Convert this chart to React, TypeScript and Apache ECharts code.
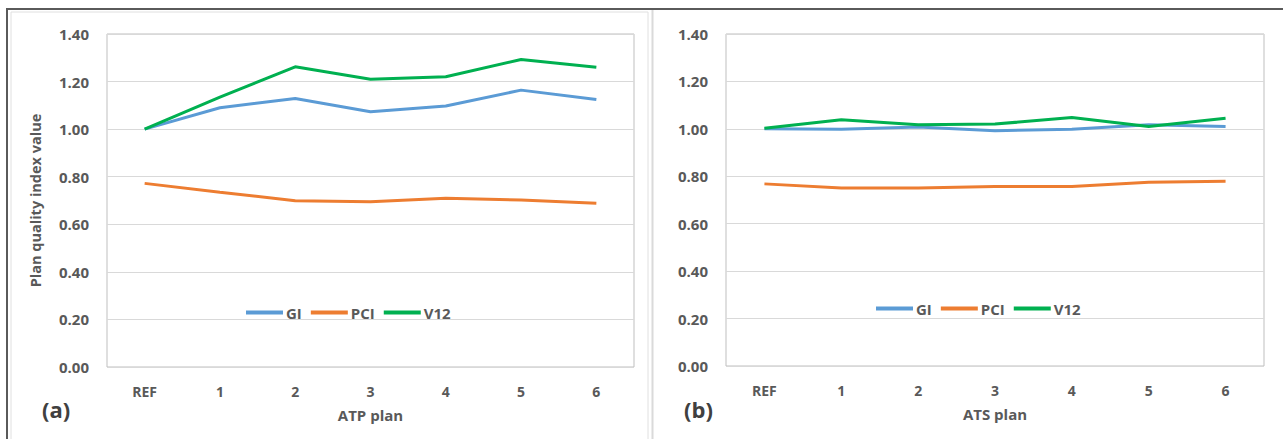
import React, { useEffect, useRef } from "react";
import * as echarts from "echarts";

const categories = ["REF", "1", "2", "3", "4", "5", "6"];
const yTicks = [0, 0.2, 0.4, 0.6, 0.8, 1.0, 1.2, 1.4];

const atpGI = [1.0, 1.09, 1.129, 1.073, 1.097, 1.164, 1.125];
const atpPCI = [0.772, 0.735, 0.699, 0.695, 0.709, 0.702, 0.688];
const atpV12 = [1.0, 1.135, 1.262, 1.21, 1.22, 1.293, 1.26];

const atsGI = [1.0, 0.998, 1.008, 0.992, 0.998, 1.017, 1.01];
const atsPCI = [0.768, 0.751, 0.751, 0.757, 0.757, 0.775, 0.779];
const atsV12 = [1.003, 1.038, 1.017, 1.02, 1.048, 1.01, 1.045];

const seriesNames = ["GI", "PCI", "V12"];
const colors = ["#5B9BD5", "#ED7D31", "#00B050"];
const panelLabels = ["(a)", "(b)"];
const xTitles = ["ATP plan", "ATS plan"];
const yTitle = "Plan quality index value";

const FONT = "'Open Sans', Lato, sans-serif";
const TXT = "#595959";
const FS = 14;

export default function App() {
  const ref = useRef<HTMLDivElement>(null);
  useEffect(() => {
    if (!ref.current) return;
    const chart = echarts.init(ref.current, null, { renderer: "svg" });
    const grids = [
      { left: 107, top: 34, width: 527, height: 333 },
      { left: 726, top: 34, width: 538, height: 332 },
    ];
    const mkX = (i: number) => ({
      type: "category",
      gridIndex: i,
      data: categories,
      boundaryGap: true,
      axisLine: { show: false },
      axisTick: { show: false },
      axisLabel: { color: TXT, fontFamily: FONT, fontWeight: "bold", fontSize: FS, margin: 17 },
      name: xTitles[i],
      nameLocation: "middle",
      nameGap: 40,
      nameTextStyle: { color: TXT, fontFamily: FONT, fontWeight: "bold", fontSize: FS + 1 },
    });
    const mkY = (i: number) => ({
      type: "value",
      gridIndex: i,
      min: yTicks[0],
      max: yTicks[yTicks.length - 1],
      interval: 0.2,
      axisLine: { show: false },
      axisTick: { show: false },
      splitLine: { lineStyle: { color: "#D9D9D9", width: 1 } },
      axisLabel: {
        color: TXT,
        fontFamily: FONT,
        fontWeight: "bold",
        fontSize: FS + 1,
        margin: 18,
        formatter: (v: number) => v.toFixed(2),
      },
      name: i === 0 ? yTitle : "",
      nameLocation: "middle",
      nameGap: 64,
      nameTextStyle: { color: TXT, fontFamily: FONT, fontWeight: "bold", fontSize: 14.5 },
    });
    const data = [
      [atpGI, atpPCI, atpV12],
      [atsGI, atsPCI, atsV12],
    ];
    const series: any[] = [];
    data.forEach((set, gi) => {
      set.forEach((vals, si) => {
        series.push({
          type: "line",
          name: seriesNames[si],
          xAxisIndex: gi,
          yAxisIndex: gi,
          data: vals,
          symbol: "none",
          lineStyle: { color: colors[si], width: 3 },
          itemStyle: { color: colors[si] },
          z: si === 2 ? 3 : 2,
        });
      });
    });
    const legendBase = {
      data: seriesNames,
      icon: "rect",
      itemWidth: 37,
      itemHeight: 4,
      itemGap: 9,
      textStyle: { color: TXT, fontFamily: FONT, fontWeight: "bold", fontSize: 15, padding: [0, 0, 0, -2] },
    };
    chart.setOption({
      animation: false,
      backgroundColor: "#ffffff",
      color: colors,
      grid: grids.map((g) => ({ ...g, show: true, borderColor: "#BFBFBF", borderWidth: 1, backgroundColor: "transparent" })),
      xAxis: [mkX(0), mkX(1)],
      yAxis: [mkY(0), mkY(1)],
      legend: [
        { ...legendBase, left: 241, top: 300 },
        { ...legendBase, left: 871, top: 296 },
      ],
      series,
      graphic: [
        { type: "line", shape: { x1: 7, y1: 9, x2: 1283, y2: 9 }, style: { stroke: "#5A5A5A", lineWidth: 2 } },
        { type: "line", shape: { x1: 7, y1: 8, x2: 7, y2: 439 }, style: { stroke: "#5A5A5A", lineWidth: 2 } },
        { type: "line", shape: { x1: 11, y1: 12, x2: 648, y2: 12 }, style: { stroke: "#E0E0E0", lineWidth: 1 } },
        { type: "line", shape: { x1: 11, y1: 12, x2: 11, y2: 439 }, style: { stroke: "#E0E0E0", lineWidth: 1 } },
        { type: "line", shape: { x1: 648, y1: 12, x2: 648, y2: 439 }, style: { stroke: "#E0E0E0", lineWidth: 1 } },
        { type: "line", shape: { x1: 652.5, y1: 10, x2: 652.5, y2: 439 }, style: { stroke: "#DADADA", lineWidth: 2 } },
        {
          type: "text",
          left: 42,
          top: 398,
          style: { text: panelLabels[0], fill: "#404040", font: `bold 22px ${FONT}` },
        },
        {
          type: "text",
          left: 684,
          top: 398,
          style: { text: panelLabels[1], fill: "#404040", font: `bold 22px ${FONT}` },
        },
      ],
    });
    return () => chart.dispose();
  }, []);
  return (
    <div
      ref={ref}
      style={{ position: "fixed", left: 0, top: 0, width: 1283, height: 439 }}
    />
  );
}
